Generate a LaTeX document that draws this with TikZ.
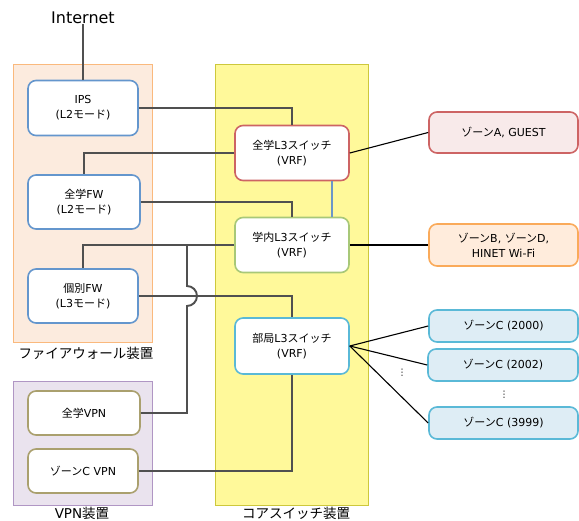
\documentclass[tikz,border=0pt]{standalone}
\usepackage{fontspec}
\setmainfont{DejaVu Sans}
\newfontfamily\jpfont{Noto Sans CJK JP}
\newfontfamily\dvfont{DejaVu Sans}
\newcommand\J[1]{{\jpfont #1}}
\definecolor{fwfill}{RGB}{252,235,222}
\definecolor{fwdraw}{RGB}{250,185,125}
\definecolor{vpnfill}{RGB}{234,227,238}
\definecolor{vpndraw}{RGB}{176,150,196}
\definecolor{corefill}{RGB}{255,249,154}
\definecolor{coredraw}{RGB}{205,200,60}
\definecolor{bluebd}{RGB}{100,150,205}
\definecolor{olivebd}{RGB}{170,160,110}
\definecolor{redbd}{RGB}{205,100,100}
\definecolor{greenbd}{RGB}{168,200,120}
\definecolor{cyanbd}{RGB}{90,185,215}
\definecolor{zafill}{RGB}{248,234,234}
\definecolor{zbfill}{RGB}{255,236,220}
\definecolor{zbbd}{RGB}{250,170,90}
\definecolor{zcfill}{RGB}{222,237,245}
\definecolor{wire}{RGB}{80,80,80}
\definecolor{linkblue}{RGB}{108,150,200}
\begin{document}
\begin{tikzpicture}[x=1pt,y=-1pt,
  grp/.style={draw,line width=0.8pt,rectangle,inner sep=0pt},
  box/.style={draw,line width=1.6pt,rounded corners=8pt,fill=white,inner sep=0pt,align=center,font=\fontsize{11}{15}\selectfont},
  wireline/.style={draw=wire,line width=1.9pt},
  zoneline/.style={draw=black,line width=1.1pt},
  glabel/.style={font=\fontsize{13.5}{16}\selectfont\jpfont,inner sep=0pt}]
\useasboundingbox (0,0) rectangle (579,521);
% groups
\node[grp,fill=fwfill,draw=fwdraw,minimum width=139pt,minimum height=278pt] (fwg) at (82.5,203) {};
\node[grp,fill=vpnfill,draw=vpndraw,minimum width=139pt,minimum height=124pt] (vpng) at (82.5,443) {};
\node[grp,fill=corefill,draw=coredraw,minimum width=153pt,minimum height=441pt] (coreg) at (291.5,284.5) {};
\node[glabel] (fwlab) at (86,353) {ファイアウォール装置};
\node[glabel] (vpnlab) at (82,513.5) {\dvfont VPN\jpfont 装置};
\node[glabel] (corelab) at (296,513.5) {コアスイッチ装置};
% internet
\node[font=\fontsize{16}{18}\selectfont,inner sep=0pt] (inet) at (83,18) {Internet};
% left boxes
\node[box,draw=bluebd,minimum width=110pt,minimum height=55pt] (ips) at (83,108) {IPS\\(L2\J{モード})};
\node[box,draw=bluebd,minimum width=112pt,minimum height=54pt] (fw) at (84,202) {\J{全学}FW\\(L2\J{モード})};
\node[box,draw=bluebd,minimum width=110pt,minimum height=54pt] (kfw) at (83,296) {\J{個別}FW\\(L3\J{モード})};
\node[box,draw=olivebd,minimum width=112pt,minimum height=44pt] (zvpn) at (84,413) {\J{全学}VPN};
\node[box,draw=olivebd,minimum width=110pt,minimum height=44pt] (cvpn) at (83,471) {\J{ゾーン}C VPN};
% switches
\node[box,draw=redbd,minimum width=114pt,minimum height=55pt] (l3a) at (292,153) {\J{全学}L3\J{スイッチ}\\(VRF)};
\node[box,draw=greenbd,minimum width=114pt,minimum height=55pt] (l3b) at (292,245) {\J{学内}L3\J{スイッチ}\\(VRF)};
\node[box,draw=cyanbd,minimum width=114pt,minimum height=56pt] (l3c) at (292,346) {\J{部局}L3\J{スイッチ}\\(VRF)};
% zones
\node[box,draw=redbd,fill=zafill,minimum width=149pt,minimum height=41pt] (za) at (503.5,132.5) {\J{ゾーン}A, GUEST};
\node[box,draw=zbbd,fill=zbfill,minimum width=149pt,minimum height=42pt] (zb) at (503.5,245) {\J{ゾーン}B, \J{ゾーン}D,\\HINET Wi-Fi};
\node[box,draw=cyanbd,fill=zcfill,minimum width=149pt,minimum height=32pt] (zc1) at (503.5,326) {\J{ゾーン}C (2000)};
\node[box,draw=cyanbd,fill=zcfill,minimum width=150pt,minimum height=32pt] (zc2) at (503,365) {\J{ゾーン}C (2002)};
\node[box,draw=cyanbd,fill=zcfill,minimum width=149pt,minimum height=32pt] (zc3) at (503.5,423) {\J{ゾーン}C (3999)};
\node[font=\fontsize{9}{10}\selectfont\dvfont,inner sep=0pt] (dots1) at (402,373) {⋮};
\node[font=\fontsize{9}{10}\selectfont\dvfont,inner sep=0pt] (dots2) at (504,395) {⋮};
% wires
\draw[wireline] (ips.north) -- (ips.north |- inet.south);
\draw[wireline] (ips.east) -| (l3a.north);
\draw[wireline] (l3a.west) -| (fw.north);
\draw[wireline] (fw.east) -| (l3b.north);
\draw[wireline] (l3b.west) -| (kfw.north);
\coordinate (j) at (187,245);
\coordinate (jt) at (187,286);
\draw[wireline] (j) -- (jt) arc[start angle=90,end angle=-90,radius=10pt] -- (j |- zvpn.east) -- (zvpn.east);
\draw[wireline] (kfw.east) -| (l3c.north);
\draw[wireline] (l3c.south) |- (cvpn.east);
\draw[draw=linkblue,line width=1.6pt] ([xshift=40pt]l3a.south) -- ([xshift=40pt]l3b.north);
\draw[zoneline] (l3a.east) -- (za.west);
\draw[zoneline] (l3b.east) -- (zb.west);
\draw[zoneline] (l3c.east) -- (zc1.west);
\draw[zoneline] (l3c.east) -- (zc2.west);
\draw[zoneline] (l3c.east) -- (zc3.west);
\end{tikzpicture}
\end{document}
